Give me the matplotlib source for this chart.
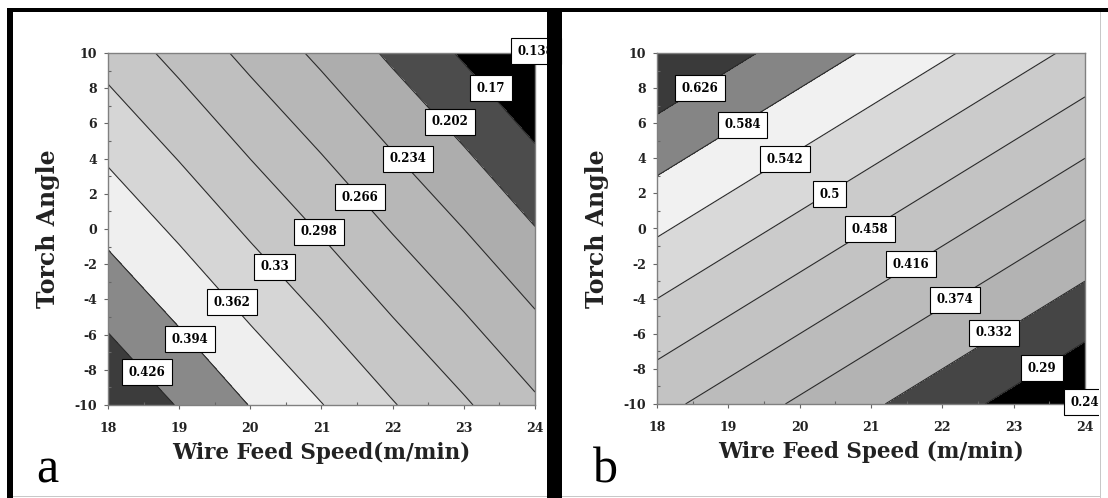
import numpy as np
import matplotlib
matplotlib.use('Agg')
import matplotlib.pyplot as plt
from matplotlib.patches import Rectangle
from matplotlib.ticker import MultipleLocator

# ==========================================
# data
# ==========================================

wire_speed = [18, 19, 20, 21, 22, 23, 24]
torch_angle = [-10, -5, 0, 5, 10]

# panel a : rows follow torch_angle, columns follow wire_speed
z_a = [
    [0.454, 0.424, 0.393, 0.363, 0.332, 0.302, 0.271],
    [0.420, 0.390, 0.359, 0.329, 0.298, 0.268, 0.237],
    [0.386, 0.356, 0.325, 0.295, 0.264, 0.234, 0.203],
    [0.352, 0.322, 0.291, 0.261, 0.230, 0.200, 0.169],
    [0.318, 0.288, 0.257, 0.227, 0.196, 0.166, 0.136],
]
levels_a = [0.138, 0.17, 0.202, 0.234, 0.266, 0.298, 0.33, 0.362, 0.394, 0.426]
labels_a = ['0.138', '0.17', '0.202', '0.234', '0.266', '0.298', '0.33', '0.362', '0.394', '0.426']

# panel b
z_b = [
    [0.428, 0.398, 0.368, 0.338, 0.308, 0.278, 0.246],
    [0.488, 0.458, 0.428, 0.398, 0.368, 0.338, 0.308],
    [0.548, 0.518, 0.488, 0.458, 0.428, 0.398, 0.368],
    [0.608, 0.578, 0.548, 0.518, 0.488, 0.458, 0.428],
    [0.668, 0.638, 0.608, 0.578, 0.548, 0.518, 0.488],
]
levels_b = [0.248, 0.29, 0.332, 0.374, 0.416, 0.458, 0.5, 0.542, 0.584, 0.626]
labels_b = ['0.248', '0.29', '0.332', '0.374', '0.416', '0.458', '0.5', '0.542', '0.584', '0.626']

# ==========================================
# styling
# ==========================================

# band fills, lowest band first
fill_a = ['#000000', '#000000', '#4c4c4c', '#adadad', '#b7b7b7', '#bfbfbf',
          '#c7c7c7', '#d6d6d6', '#efefef', '#898989', '#3c3c3c']
fill_b = ['#000000', '#000000', '#454545', '#b3b3b3', '#bbbbbb', '#c3c3c3',
          '#cbcbcb', '#d9d9d9', '#f1f1f1', '#858585', '#3a3a3a']

# where the boxed labels sit (data coords), same order as levels
lab_xy_a = [(24.01, 10.1), (23.38, 8.0), (22.81, 6.1), (22.21, 4.0), (21.54, 1.8),
            (20.96, -0.15), (20.34, -2.15), (19.74, -4.15), (19.15, -6.25), (18.55, -8.15)]
lab_xy_b = [(24.06, -9.9), (23.40, -7.95), (22.73, -5.95), (22.18, -4.05), (21.56, -2.05),
            (20.99, -0.05), (20.42, 1.95), (19.79, 3.95), (19.20, 5.9), (18.60, 8.0)]

plt.rcParams['font.family'] = ['DejaVu Serif']
plt.rcParams['axes.unicode_minus'] = False

W, H = 1108, 498


def fx(px):
    return px / W


def fy(py):
    return 1 - py / H


def draw_panel(ax, z, levels, labels, fills, lab_xy, xlabel):
    X, Y = np.meshgrid(wire_speed, torch_angle)
    Z = np.array(z)
    bounds = [0.0] + levels + [1.0]
    ax.contourf(X, Y, Z, levels=bounds, colors=fills)
    ax.contour(X, Y, Z, levels=levels, colors='#2a2a2a', linewidths=0.8)

    for txt, (x, y) in zip(labels, lab_xy):
        ax.text(x, y, txt, ha='center', va='center', fontsize=8.5, fontweight='bold',
                clip_on=False, zorder=5,
                bbox=dict(boxstyle='square,pad=0.55', fc='white', ec='black', lw=0.8))

    ax.set_xlim(18, 24)
    ax.set_ylim(-10, 10)
    ax.xaxis.set_major_locator(MultipleLocator(1))
    ax.xaxis.set_minor_locator(MultipleLocator(0.5))
    ax.yaxis.set_major_locator(MultipleLocator(2))
    ax.yaxis.set_minor_locator(MultipleLocator(1))
    ax.tick_params(which='major', direction='out', length=3, width=0.8, color='#666666',
                   labelsize=9)
    ax.tick_params(which='minor', direction='in', length=2, width=0.8, color='#666666')
    ax.tick_params(axis='x', which='major', pad=9)
    ax.tick_params(axis='y', which='major', pad=5)
    for lab in ax.get_xticklabels() + ax.get_yticklabels():
        lab.set_fontweight('bold')
        lab.set_color('#222222')
    for sp in ax.spines.values():
        sp.set_color('#808080')
        sp.set_linewidth(1.0)

    ax.set_xlabel(xlabel, fontsize=15.5, fontweight='bold', color='#222222')
    ax.set_ylabel('Torch Angle', fontsize=17, fontweight='bold', color='#222222')
    ax.xaxis.set_label_coords(0.5, -0.136)
    ax.xaxis.label.set_va('center')
    ax.yaxis.set_label_coords(-0.14, 0.5)
    ax.yaxis.label.set_va('center')


fig = plt.figure(figsize=(W / 100, H / 100), dpi=100)
fig.patch.set_facecolor('white')

ax_a = fig.add_axes([fx(108), fy(405), fx(535) - fx(108), fy(53) - fy(405)])
ax_b = fig.add_axes([fx(657), fy(404), fx(1085) - fx(657), fy(53) - fy(404)])

draw_panel(ax_a, z_a, levels_a, labels_a, fill_a, lab_xy_a, 'Wire Feed Speed(m/min)')
draw_panel(ax_b, z_b, levels_b, labels_b, fill_b, lab_xy_b, 'Wire Feed Speed (m/min)')

# panel letters
fig.text(fx(47), fy(482), 'a', fontsize=36, family='Liberation Serif', va='baseline', ha='center')
fig.text(fx(605), fy(482), 'b', fontsize=36, family='Liberation Serif', va='baseline', ha='center')

# frame around the two panels
def frame_rect(x0, y0, x1, y1, color, z):
    fig.add_artist(Rectangle((fx(x0), fy(y1)), fx(x1) - fx(x0), fy(y0) - fy(y1),
                             transform=fig.transFigure, facecolor=color,
                             edgecolor='none', zorder=z))

frame_rect(1099, 12, 1108, 498, 'white', 20)
frame_rect(1099.5, 12, 1101, 498, '#c8c8c8', 21)
frame_rect(13, 495.5, 1100, 497, '#c8c8c8', 21)
frame_rect(7, 8, 1108, 12, 'black', 22)
frame_rect(7, 8, 13, 498, 'black', 22)
frame_rect(547, 8, 562, 498, 'black', 22)

fig.savefig('out.png', dpi=100)
